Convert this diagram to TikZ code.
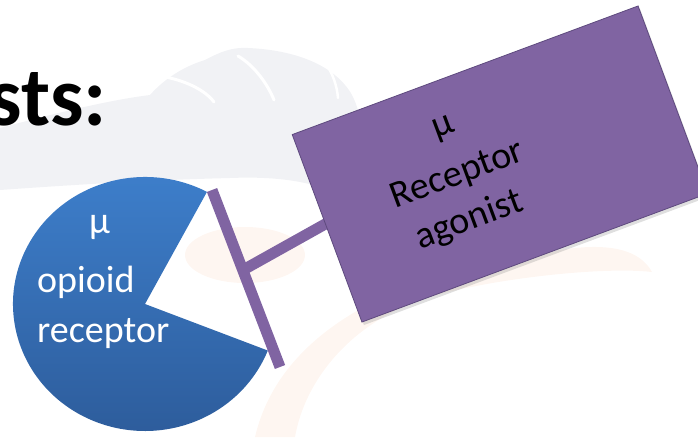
\documentclass[tikz,border=0pt]{standalone}
\usepackage{fontspec}
\setmainfont{Carlito}
\usetikzlibrary{shadows}
\definecolor{agpurple}{HTML}{8064A2}
\definecolor{agborder}{HTML}{5E4A7E}
\definecolor{rectop}{HTML}{3E80CD}
\definecolor{recbot}{HTML}{2D5C9B}
\definecolor{wmgrey}{HTML}{F1F2F5}
\definecolor{wmpeach}{HTML}{FEF6F1}
\tikzset{
  tbar/.style={line width=11pt, draw=agpurple},
  agbox/.style={draw=agborder, line width=0.8pt, fill=agpurple, inner sep=0pt,
    drop shadow={opacity=0.25, shadow xshift=2pt, shadow yshift=-3pt}},
  wtext/.style={text=white, font=\fontsize{38}{46}\selectfont, inner sep=0pt},
  btext/.style={text=black, font=\fontsize{38}{46}\selectfont, inner sep=0pt},
}
\begin{document}
\begin{tikzpicture}[x=1pt,y=-1pt]
\useasboundingbox (0,0) rectangle (698,437);
\begin{scope}
\clip (0,0) rectangle (698,437);
% faint watermark
\fill[wmgrey] (0,128) .. controls (60,112) and (110,100) .. (150,95)
  .. controls (165,78) and (185,66) .. (205,60)
  .. controls (220,52) and (232,47) .. (248,48)
  .. controls (295,50) and (335,65) .. (352,95)
  .. controls (366,122) and (366,165) .. (348,200)
  .. controls (320,182) and (280,176) .. (230,178)
  .. controls (150,180) and (70,185) .. (0,190) -- cycle;
\draw[white, line width=3pt, line cap=round] (160,76) .. controls (185,80) and (205,90) .. (214,102);
\draw[white, line width=3pt, line cap=round] (238,56) .. controls (255,66) and (268,85) .. (274,100);
\draw[white, line width=2.5pt, line cap=round] (326,64) .. controls (333,74) and (337,86) .. (338,98);
\fill[wmpeach] (255,437) .. controls (280,330) and (400,270) .. (560,250)
  .. controls (610,242) and (640,250) .. (652,272)
  .. controls (600,266) and (480,280) .. (420,300)
  .. controls (350,325) and (305,380) .. (295,437) -- cycle;
\fill[wmpeach] (245,255) ellipse[x radius=60, y radius=28];
% title fragment
\node[font=\bfseries\fontsize{84}{84}\selectfont, anchor=base east, inner sep=0pt] (title) at (107,125) {sts:};
% receptor pie
\shade[top color=rectop, bottom color=recbot] (145,304) -- ++(-62:132 and 127)
  arc[start angle=-62, end angle=-338.5, x radius=132, y radius=127] -- cycle;
\node[wtext, anchor=base west] (mu1) at (89,233) {μ};
\node[wtext, anchor=base west] (opioid) at (37,292) {opioid};
\node[wtext, anchor=base west] (receptor) at (37,342) {receptor};
% T connector
\coordinate (bartop) at (212,190);
\coordinate (barbot) at (280,367);
\coordinate (stemjoin) at (243,270);
\coordinate (stemend) at (345,213);
\draw[tbar] (bartop) -- (barbot);
\draw[tbar] (stemjoin) -- (stemend);
% agonist box
\node[agbox, rotate=20.4, minimum width=369pt, minimum height=200pt] (agonist) at (500,164) {};
\begin{scope}[shift={(461,184)}, rotate=20.4]
\node[btext, anchor=base, transform shape] (mu2) at (3,-51) {μ};
\node[btext, anchor=base, transform shape] (recline) at (0,0) {Receptor};
\node[btext, anchor=base, transform shape] (agoline) at (-5,47) {agonist};
\end{scope}
\end{scope}
\end{tikzpicture}
\end{document}
